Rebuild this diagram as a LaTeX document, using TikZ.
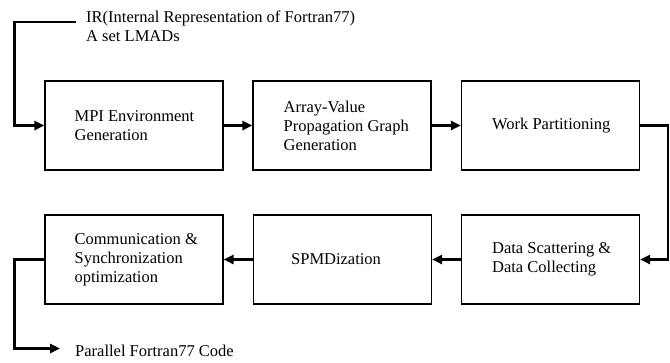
\documentclass[tikz,border=0pt]{standalone}
\usepackage{fontspec}
\setmainfont{Liberation Serif}
\usetikzlibrary{arrows.meta}
\begin{document}
\begin{tikzpicture}[x=1pt,y=-1pt,
  stage/.style={draw, line width=1.1pt, minimum width=178pt, minimum height=89pt, inner sep=0pt},
  boxtext/.style={anchor=west, align=left, inner sep=0pt, font=\fontsize{16.5}{19}\selectfont},
  flow/.style={line width=2.8pt, -{Triangle[length=10pt,width=9pt]}}
]
\useasboundingbox (0,0) rectangle (670,362);

% processing stages
\node[stage] (mpi)  at (134,125.5) {};
\node[stage] (avpg) at (342,125.5) {};
\node[stage] (work) at (550.5,125.5) {};
\node[stage] (data) at (550.5,259.5) {};
\node[stage] (spmd) at (342.5,259.5) {};
\node[stage] (comm) at (134,259.5) {};

\node[boxtext] (mpiT)  at ([xshift=30pt]mpi.west)  {MPI Environment\\Generation};
\node[boxtext] (avpgT) at ([xshift=31pt]avpg.west) {Array-Value\\Propagation Graph\\Generation};
\node[boxtext] (workT) at ([xshift=31pt]work.west) {Work Partitioning};
\node[boxtext] (dataT) at ([xshift=31pt]data.west) {Data Scattering \&\\Data Collecting};
\node[boxtext] (spmdT) at ([xshift=38pt]spmd.west) {SPMDization};
\node[boxtext] (commT) at ([xshift=30pt]comm.west) {Communication \&\\Synchronization\\optimization};

% input and output
\node[boxtext, anchor=north west] (inT) at (86,11) {IR(Internal Representation of Fortran77)\\A set LMADs};
\node[boxtext, anchor=base west] (outT) at (75,356) {Parallel Fortran77 Code};
\coordinate (src) at (76,22);
\coordinate (dst) at (60,348.5);

% flow
\draw[flow] (src) -| ([xshift=-30pt]mpi.west) -- (mpi.west);
\draw[flow] (mpi) -- (avpg);
\draw[flow] (avpg) -- (work);
\draw[flow] (work.east) -| ([xshift=28pt]data.east) -- (data.east);
\draw[flow] (data) -- (spmd);
\draw[flow] (spmd) -- (comm);
\draw[flow] (comm.west) -- ++(-30,0) |- (dst);
\end{tikzpicture}
\end{document}
